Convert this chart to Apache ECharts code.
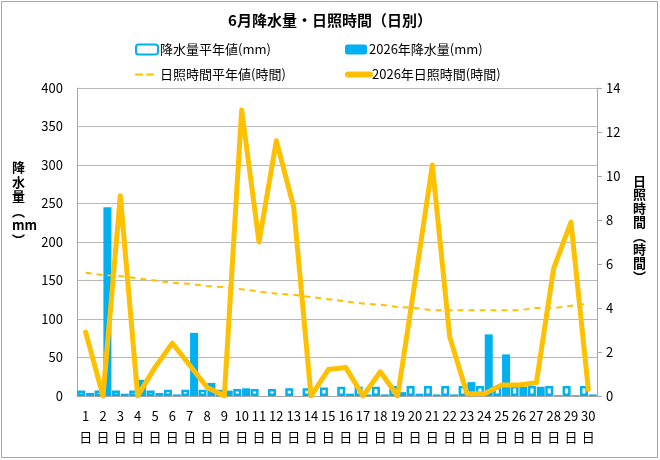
<!DOCTYPE html>
<html>
<head>
<meta charset="utf-8">
<script src="https://cdn.jsdelivr.net/npm/echarts@6/dist/echarts.min.js"></script>
<style>
  html, body { margin: 0; padding: 0; background: #fff; }
  #chart { width: 660px; height: 460px; }
</style>
</head>
<body>
<div id="chart"></div>
<script>
// 6月 daily values
const days = ['1','2','3','4','5','6','7','8','9','10','11','12','13','14','15',
  '16','17','18','19','20','21','22','23','24','25','26','27','28','29','30'];
const rainNormal = [7,7,7,7,7,8,8,8,8,9,9,9,10,10,11,12,12,12,13,13,13,13,13,13,13,13,13,13,13,13];
const rain2026 = [4,245,3,21,4,2,82,17,7,10,0,0,0,0,0,3,2,2,5,3,2,2,18,80,54,12,12,1,1,2];
const sunNormal = [5.6,5.5,5.45,5.35,5.25,5.15,5.1,5.0,4.95,4.85,4.75,4.65,4.6,4.5,4.4,
  4.3,4.2,4.15,4.05,4.0,3.9,3.9,3.9,3.9,3.9,3.9,4.0,4.0,4.1,4.2];
const sun2026 = [2.9,0,9.1,0,1.3,2.4,1.4,0.4,0,13.0,7.0,11.6,8.6,0,1.2,
  1.3,0,1.1,0,5.2,10.5,2.7,0.1,0.1,0.5,0.5,0.6,5.8,7.9,0.3];
const rainTicks = [0, 400, 50];
const sunTicks = [0, 14, 2];

const names = ['降水量平年値(mm)', '2026年降水量(mm)', '日照時間平年値(時間)', '2026年日照時間(時間)'];
const blue = '#00B0F0';
const orange = '#FFC000';
const font = '"Noto Sans CJK JP", "Noto Sans", sans-serif';

const chart = echarts.init(document.getElementById('chart'));

function legendAt(name, left, top, lineW) {
  const lg = {
    data: [name],
    left: left,
    top: top,
    itemWidth: 22,
    itemHeight: 10,
    itemGap: 2,
    selectedMode: false,
    textStyle: { fontFamily: font, fontSize: 13, color: '#000', padding: [0, 0, 0, -3] }
  };
  if (lineW) {
    lg.itemStyle = { opacity: 0 };
    lg.lineStyle = { width: lineW, cap: 'round' };
  }
  return lg;
}

chart.setOption({
  animation: false,
  textStyle: { fontFamily: font },
  title: {
    text: '6月降水量・日照時間（日別）',
    left: 'center',
    top: 8,
    textStyle: { fontFamily: font, fontSize: 15, fontWeight: 'bold', color: '#000' }
  },
  legend: [
    legendAt(names[0], 130, 38, 0),
    legendAt(names[1], 340, 38, 0),
    legendAt(names[2], 130, 63, 2),
    legendAt(names[3], 340, 63, 6)
  ],
  grid: { left: 77, right: 63, top: 88, bottom: 64 },
  xAxis: {
    type: 'category',
    data: days,
    axisLine: { lineStyle: { color: '#A6A6A6' } },
    axisTick: { show: false },
    axisLabel: {
      interval: 0,
      margin: 10,
      fontSize: 13,
      lineHeight: 21,
      color: '#000',
      formatter: v => v + '\n日'
    }
  },
  yAxis: [
    {
      type: 'value',
      min: rainTicks[0], max: rainTicks[1], interval: rainTicks[2],
      axisLine: { show: true, lineStyle: { color: '#A6A6A6' } },
      axisTick: { show: false },
      axisLabel: { fontSize: 13, color: '#000', margin: 14 },
      splitLine: { lineStyle: { color: '#B8B8B8' } }
    },
    {
      type: 'value',
      min: sunTicks[0], max: sunTicks[1], interval: sunTicks[2],
      axisLine: { show: true, lineStyle: { color: '#A6A6A6' } },
      axisTick: { show: true, length: 5, lineStyle: { color: '#A6A6A6' } },
      axisLabel: { fontSize: 13, color: '#000', margin: 9 },
      splitLine: { show: false }
    }
  ],
  graphic: [
    {
      type: 'rect',
      shape: { x: 1.5, y: 1.5, width: 656, height: 456 },
      style: { fill: 'none', stroke: '#A6A6A6', lineWidth: 1 },
      silent: true
    },
    {
      type: 'text',
      left: 12, top: 160,
      style: {
        text: '降\n水\n量\n︵\nmm\n︶',
        fontFamily: font, fontSize: 13, fontWeight: 'bold', lineHeight: 14.5,
        fill: '#000', align: 'center'
      }
    },
    {
      type: 'text',
      left: 633, top: 174,
      style: {
        text: '日\n照\n時\n間\n︵\n時\n間\n︶',
        fontFamily: font, fontSize: 13, fontWeight: 'bold', lineHeight: 13.7,
        fill: '#000', align: 'center'
      }
    }
  ],
  series: [
    {
      name: names[0],
      type: 'bar',
      data: rainNormal,
      barWidth: 8,
      barGap: '10%',
      itemStyle: { color: '#fff', borderColor: blue, borderWidth: 2.5 }
    },
    {
      name: names[1],
      type: 'bar',
      data: rain2026,
      barWidth: 8,
      itemStyle: { color: blue }
    },
    {
      name: names[2],
      type: 'line',
      yAxisIndex: 1,
      data: sunNormal,
      symbol: 'none',
      lineStyle: { color: orange, width: 2, type: [6, 5] },
      itemStyle: { color: orange },
      z: 3
    },
    {
      name: names[3],
      type: 'line',
      yAxisIndex: 1,
      data: sun2026,
      symbol: 'none',
      lineStyle: { color: orange, width: 5, join: 'round', cap: 'round' },
      itemStyle: { color: orange },
      z: 4
    }
  ]
});
</script>
</body>
</html>
